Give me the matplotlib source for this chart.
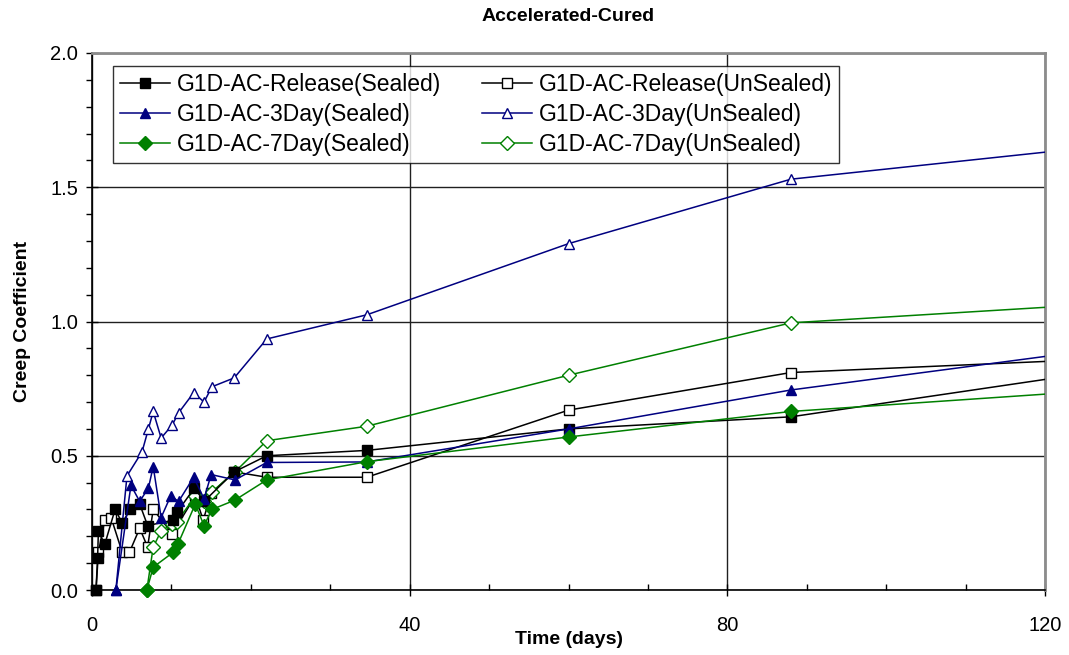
import matplotlib
matplotlib.use("Agg")
import matplotlib.pyplot as plt
from matplotlib.ticker import MultipleLocator
from matplotlib.transforms import Bbox, TransformedBbox

plt.rcParams["font.family"] = ["Liberation Sans", "DejaVu Sans"]

# Data (time in days, creep coefficient)
rel_s_t = [0.5, 0.7, 0.8, 1.6, 2.9, 3.8, 4.8, 6.0, 7.0, 10.2, 10.7, 12.9, 14.1, 17.9, 22.0, 34.6, 60.0, 88.0, 150.0]
rel_s_v = [0.00, 0.12, 0.22, 0.17, 0.30, 0.25, 0.30, 0.32, 0.24, 0.26, 0.29, 0.38, 0.33, 0.44, 0.50, 0.52, 0.60, 0.645, 0.915]

rel_u_t = [0.5, 0.8, 1.6, 2.4, 3.8, 4.7, 6.0, 7.0, 7.7, 10.1, 13.0, 14.0, 15.0, 17.9, 22.0, 34.6, 60.0, 88.0, 150.0]
rel_u_v = [0.00, 0.14, 0.26, 0.27, 0.14, 0.14, 0.23, 0.16, 0.30, 0.21, 0.35, 0.26, 0.36, 0.44, 0.42, 0.42, 0.67, 0.81, 0.89]

d3_s_t = [3.0, 4.9, 6.0, 7.1, 7.7, 8.7, 9.9, 10.9, 12.8, 14.1, 15.0, 18.0, 22.0, 34.6, 60.0, 88.0, 150.0]
d3_s_v = [0.00, 0.39, 0.33, 0.38, 0.46, 0.27, 0.35, 0.33, 0.42, 0.34, 0.43, 0.41, 0.475, 0.477, 0.60, 0.745, 0.987]

d3_u_t = [3.0, 4.4, 6.3, 7.1, 7.7, 8.7, 10.1, 10.9, 12.8, 14.1, 15.1, 17.9, 22.0, 34.6, 60.0, 88.0, 150.0]
d3_u_v = [0.00, 0.425, 0.515, 0.60, 0.665, 0.566, 0.615, 0.66, 0.735, 0.70, 0.757, 0.79, 0.935, 1.025, 1.29, 1.53, 1.725]

d7_s_t = [6.9, 7.7, 10.2, 10.8, 13.0, 14.1, 15.1, 18.0, 22.0, 34.6, 60.0, 88.0, 150.0]
d7_s_v = [0.00, 0.085, 0.14, 0.17, 0.32, 0.24, 0.30, 0.335, 0.41, 0.478, 0.57, 0.665, 0.79]

d7_u_t = [6.9, 7.7, 8.7, 10.1, 10.7, 13.0, 14.1, 15.1, 18.0, 22.0, 34.6, 60.0, 88.0, 150.0]
d7_u_v = [0.00, 0.16, 0.22, 0.245, 0.255, 0.35, 0.33, 0.366, 0.44, 0.556, 0.61, 0.80, 0.995, 1.107]

labels = [
    "G1D-AC-Release(Sealed)", "G1D-AC-3Day(Sealed)", "G1D-AC-7Day(Sealed)",
    "G1D-AC-Release(UnSealed)", "G1D-AC-3Day(UnSealed)", "G1D-AC-7Day(UnSealed)",
]

NAVY = "#000080"
GREEN = "#008000"

fig = plt.figure(figsize=(10.69, 6.55), dpi=100)
ax = fig.add_axes([0.0861, 0.0992, 0.8915, 0.8199])

# clip at the right edge only, so markers sitting on the axes stay whole
clip = TransformedBbox(Bbox([[-0.05, -0.05], [1.0, 1.05]]), ax.transAxes)

series = [
    (rel_s_t, rel_s_v, "black", "s", True),
    (d3_s_t, d3_s_v, NAVY, "^", True),
    (d7_s_t, d7_s_v, GREEN, "D", True),
    (rel_u_t, rel_u_v, "black", "s", False),
    (d3_u_t, d3_u_v, NAVY, "^", False),
    (d7_u_t, d7_u_v, GREEN, "D", False),
]
for (t, v, c, m, filled), lab in zip(series, labels):
    ms = 6.8 if m == "D" else 7.8
    ln, = ax.plot(t, v, color=c, lw=1.1, marker=m, ms=ms, mew=1.0,
                  mfc=c if filled else "white", mec=c, label=lab,
                  zorder=4 if filled else 3)
    ln.set_clip_box(clip)

ax.set_xlim(0, 120)
ax.set_ylim(0, 2.0)
ax.xaxis.set_major_locator(MultipleLocator(40))
ax.xaxis.set_minor_locator(MultipleLocator(10))
ax.yaxis.set_major_locator(MultipleLocator(0.5))
ax.yaxis.set_minor_locator(MultipleLocator(0.1))
ax.yaxis.set_major_formatter(plt.FuncFormatter(lambda v, p: f"{v:.1f}"))

ax.grid(True, which="major", color="#202020", lw=1.0, zorder=0)
ax.tick_params(axis="both", which="major", direction="inout", length=8,
               width=1, labelsize=14.5, pad=6)
ax.tick_params(axis="x", which="major", pad=15)
ax.tick_params(axis="x", which="minor", direction="in", length=4, width=1)
ax.tick_params(axis="y", which="minor", direction="out", length=4, width=1)

for side in ("top", "right"):
    ax.spines[side].set_color("#8c8c8c")
    ax.spines[side].set_linewidth(2)
for side in ("left", "bottom"):
    ax.spines[side].set_color("black")
    ax.spines[side].set_linewidth(1.2)

ax.set_xlabel("Time (days)", fontsize=14, fontweight="bold", labelpad=-3)
ax.set_ylabel("Creep Coefficient", fontsize=14, fontweight="bold", labelpad=14)
ax.set_title("Accelerated-Cured", fontsize=14, fontweight="bold", pad=23)

leg = ax.legend(loc="upper left", bbox_to_anchor=(113 / 1069, 1 - 66 / 655),
                bbox_transform=fig.transFigure, ncol=2, fontsize=16.5,
                frameon=True, fancybox=False, edgecolor="black",
                handlelength=2.2, handletextpad=0.3, columnspacing=1.75,
                labelspacing=0.3, borderpad=0.3, borderaxespad=0)
leg.get_frame().set_linewidth(1.0)

fig.savefig("out.png", dpi=100)
